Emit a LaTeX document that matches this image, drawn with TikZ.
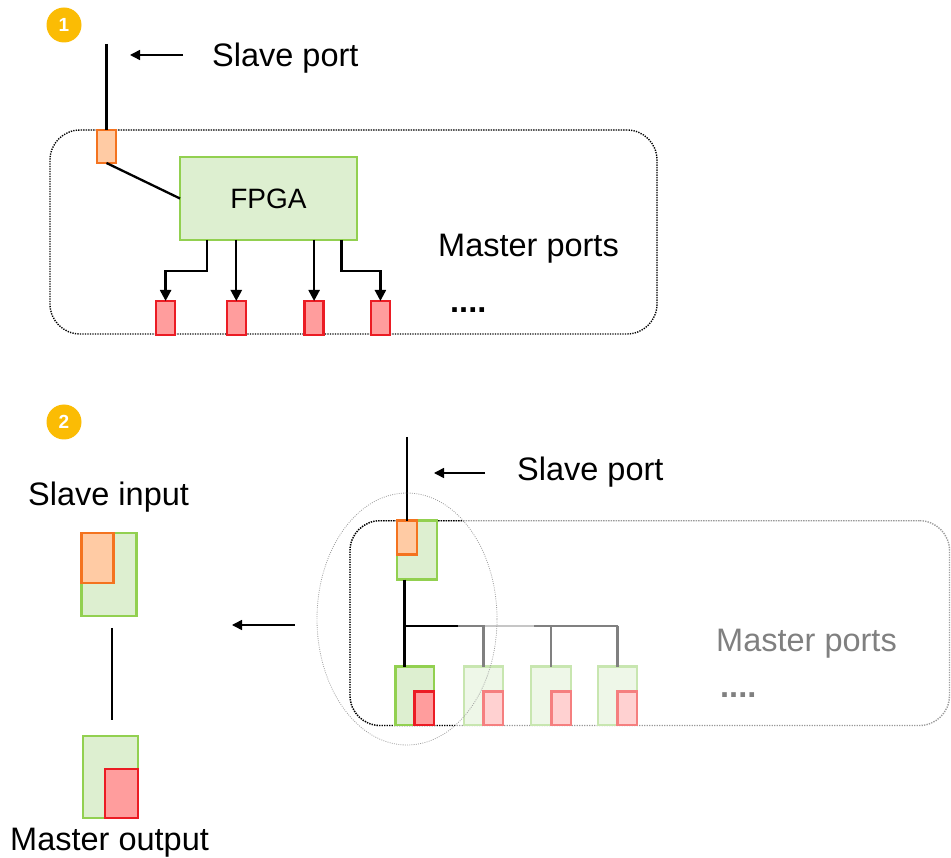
\documentclass[tikz,border=0pt]{standalone}
\usepackage{fontspec}
\setmainfont{Liberation Sans}
\usetikzlibrary{arrows.meta,shapes.geometric,calc}
\definecolor{badgeyellow}{HTML}{FBBC04}
\definecolor{portorange}{HTML}{F4731F}
\definecolor{orangefill}{HTML}{FFCBA4}
\definecolor{boardgreen}{HTML}{92D050}
\definecolor{greenfill}{HTML}{DDEFD0}
\definecolor{portred}{HTML}{EB1C24}
\definecolor{redfill}{HTML}{FF9D9D}
\definecolor{fadegreen}{HTML}{C8E6B0}
\definecolor{fadegreenfill}{HTML}{EEF7E8}
\definecolor{fadered}{HTML}{F57F7F}
\definecolor{faderedfill}{HTML}{FFD1D1}
\definecolor{fadegray}{HTML}{808080}
\definecolor{framegray}{HTML}{9A9A9A}
\definecolor{buslight}{HTML}{C6C6C6}
\definecolor{ellgray}{HTML}{A0A0A0}

\begin{document}
\begin{tikzpicture}[x=1pt,y=-1pt,
  lbl/.style={inner sep=0pt, font=\fontsize{32.5}{38}\selectfont, anchor=base west},
  dots/.style={lbl, font=\fontsize{32.5}{38}\selectfont\bfseries},
  badge/.style={circle, fill=badgeyellow, minimum size=35pt, inner sep=0pt,
    text=white, font=\fontsize{19}{22}\selectfont\bfseries},
  blk/.style={draw, line width=2.6pt, inner sep=0pt, outer sep=0pt},
  slaveport/.style={blk, draw=portorange, fill=orangefill},
  masterport/.style={blk, draw=portred, fill=redfill},
  board/.style={blk, draw=boardgreen, fill=greenfill},
  fadeboard/.style={blk, draw=fadegreen, fill=fadegreenfill},
  fadeport/.style={blk, draw=fadered, fill=faderedfill},
  wire/.style={line width=2.3pt},
  pointer/.style={line width=1.5pt, -{Triangle[length=10pt,width=10pt]}},
  feed/.style={line width=2.3pt, -{Triangle[length=11pt,width=11pt]}},
  frame/.style={draw, line width=1.4pt, dash pattern=on 1.3pt off 1.2pt,
    rounded corners=30pt, inner sep=0pt, outer sep=0pt},
]
\useasboundingbox (0,0) rectangle (951,858);

% ---------- 1: one FPGA behind a single slave port ----------
\node[badge] (b1) at (64,25) {1};
\node[frame, minimum width=607pt, minimum height=204pt] (dev1) at (353.5,232) {};
\node[slaveport, minimum width=19pt, minimum height=33pt] (sp1) at (106.5,146.5) {};
\coordinate (up1) at (106.5,44);
\draw[wire] (up1) -- (sp1.north);
\node[board, minimum width=177pt, minimum height=83pt,
      font=\fontsize{28}{32}\selectfont] (fpga) at (268.5,198.5) {FPGA};
\draw[wire] (sp1.south) -- (fpga.west);

\node[masterport, minimum width=19pt, minimum height=34pt] (m1) at (165.6,318) {};
\node[masterport, minimum width=19pt, minimum height=34pt] (m2) at (236.3,318) {};
\node[masterport, minimum width=19pt, minimum height=34pt] (m3) at (314.1,318) {};
\node[masterport, minimum width=19pt, minimum height=34pt] (m4) at (380.4,318) {};

\draw[feed] ([xshift=26.7pt]fpga.south west) -- ++(0,30.7) -| (m1.north);
\draw[feed] (fpga.south -| m2.north) -- (m2.north);
\draw[feed] (fpga.south -| m3.north) -- (m3.north);
\draw[feed] ([xshift=161.4pt]fpga.south west) -- ++(0,30.7) -| (m4.north);

\coordinate (p1s) at (183,55);
\coordinate (p1e) at (130,55);
\draw[pointer] (p1s) -- (p1e);
\node[lbl] (t1) at (212,67) {Slave port};
\node[lbl] (t2) at (438,257) {Master ports};
\node[dots] (t3) at (450,313) {....};

% ---------- 2: one slave input / master output pair ----------
\node[badge] (b2) at (64,422) {2};
\node[lbl] (t4) at (28,506) {Slave input};
\node[board, minimum width=55pt, minimum height=83pt] (gi) at (109.2,574.3) {};
\node[slaveport, minimum width=32pt, minimum height=50pt, anchor=north west] (oi) at (gi.north west) {};
\node[board, minimum width=55pt, minimum height=82pt] (go) at (110.5,777) {};
\node[masterport, minimum width=33pt, minimum height=49pt, anchor=south east] (ro) at (go.south east) {};
\draw[line width=2pt] ([shift={(2.5pt,-12pt)}]gi.south) -- ([shift={(1.2pt,16pt)}]go.north);
\node[lbl] (t5) at (10,850) {Master output};

\coordinate (p2s) at (294.7,625);
\coordinate (p2e) at (232,625);
\draw[pointer] (p2s) -- (p2e);

% board outline: faded outside the focus ellipse, dark inside it
\node[frame, draw=framegray, minimum width=599.5pt, minimum height=204.8pt] (dev2) at (649.75,623.1) {};
\begin{scope}
  \clip (407,619) ellipse [x radius=90pt, y radius=126pt];
  \node[frame, draw=black, minimum width=599.5pt, minimum height=204.8pt] (dev2dark) at (649.75,623.1) {};
\end{scope}

% slave side
\node[board, minimum width=40pt, minimum height=59pt] (gs) at (417,550) {};
\node[slaveport, minimum width=20pt, minimum height=34pt, anchor=north west] (os) at (gs.north west) {};
\coordinate (up2) at (407,437);
\draw[wire] (up2) -- (up2 |- os.north);

% master side
\node[board, minimum width=38.6pt, minimum height=58.3pt] (gb) at (414.7,695.9) {};
\node[masterport, minimum width=19.5pt, minimum height=33.3pt, anchor=south east] (rb) at (gb.south east) {};
\node[fadeboard, minimum width=39pt, minimum height=58.3pt] (f1) at (483.5,695.9) {};
\node[fadeport, minimum width=19.5pt, minimum height=33.3pt, anchor=south east] (fr1) at (f1.south east) {};
\node[fadeboard, minimum width=40pt, minimum height=58.3pt] (f2) at (551,695.9) {};
\node[fadeport, minimum width=19.5pt, minimum height=33.3pt, anchor=south east] (fr2) at (f2.south east) {};
\node[fadeboard, minimum width=39pt, minimum height=58.3pt] (f3) at (617.5,695.9) {};
\node[fadeport, minimum width=19.5pt, minimum height=33.3pt, anchor=south east] (fr3) at (f3.south east) {};

% distribution bus
\coordinate (bj) at (404.6,625.7);
\coordinate (bk) at (458,625.7);
\coordinate (bl) at (485,625.7);
\coordinate (bm) at (534,625.7);
\draw[wire] (bj |- gs.south) -- (bj |- gb.north);
\draw[wire] (bj) -- (bk);
\draw[wire, draw=fadegray] (bk) -- (bl);
\draw[wire, draw=buslight] (bl) -- (bm);
\draw[wire, draw=fadegray] (bm) -- (bj -| f3.north);
\draw[wire, draw=fadegray] (bj -| f1.north) -- (f1.north);
\draw[wire, draw=fadegray] (bj -| f2.north) -- (f2.north);
\draw[wire, draw=fadegray] (bj -| f3.north) -- (f3.north);

\coordinate (p3s) at (485,473);
\coordinate (p3e) at (434,473);
\draw[pointer] (p3s) -- (p3e);
\node[lbl] (t6) at (517,481) {Slave port};
\node[lbl, text=fadegray] (t7) at (716,651) {Master ports};
\node[dots, text=fadegray] (t8) at (720,697) {....};

% focus ellipse
\node[ellipse, draw=ellgray, line width=0.8pt, dash pattern=on 0.9pt off 1.3pt,
      minimum width=180pt, minimum height=252pt, inner sep=0pt] (focus) at (407,619) {};
\end{tikzpicture}
\end{document}
